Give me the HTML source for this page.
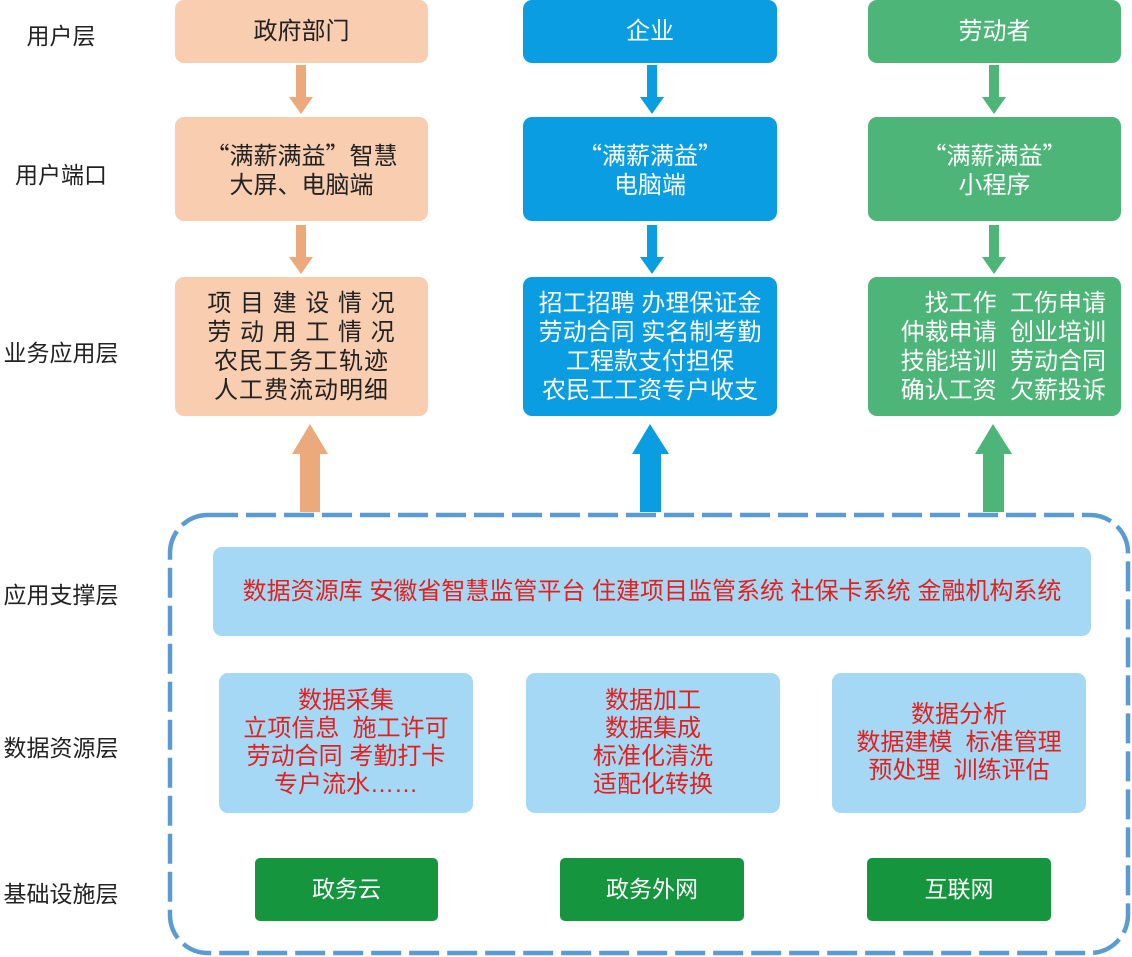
<!DOCTYPE html>
<html><head><meta charset="utf-8">
<style>
*{margin:0;padding:0;box-sizing:border-box}
body{width:1132px;height:957px;background:#fff;position:relative;overflow:hidden;font-family:"Liberation Sans","Noto Sans CJK SC",sans-serif}
.a{position:absolute}
.box{position:absolute;border-radius:9px;display:flex;align-items:center;justify-content:center;text-align:center;font-size:24px;line-height:29px}
.o{background:#f8cdb0;color:#222}
.b{background:#0a9de2;color:#fff}
.g{background:#4cb577;color:#fff}
.lb{background:#a4d8f4;color:#e4201e}
.dg{background:#16953f;color:#fff;border-radius:5px}
.lab{position:absolute;left:0;width:122px;text-align:center;font-size:23px;color:#222}
.q{font-family:"Noto Sans CJK SC",sans-serif;display:inline-block;width:24px}
</style></head><body>
<svg class="a" style="left:0;top:0" width="1132" height="957">
<rect x="170" y="515" width="958" height="438" rx="38" ry="38" fill="none" stroke="#5a9bd3" stroke-width="4.5" stroke-dasharray="30 8"/>
<g fill="#eba97c">
<rect x="296" y="65" width="10" height="34"/><polygon points="289,97 313,97 301,114"/>
<rect x="296" y="225" width="10" height="34"/><polygon points="289,257 313,257 301,274"/>
<rect x="300" y="452" width="20" height="60"/><polygon points="292,454 328,454 310,424"/>
</g>
<g fill="#0a9de2">
<rect x="647" y="65" width="10" height="34"/><polygon points="640,97 664,97 652,114"/>
<rect x="647" y="225" width="10" height="34"/><polygon points="640,257 664,257 652,274"/>
<rect x="640" y="452" width="21" height="60"/><polygon points="632,454 669,454 650,424"/>
</g>
<g fill="#4cb577">
<rect x="989" y="65" width="10" height="34"/><polygon points="982,97 1006,97 994,114"/>
<rect x="989" y="225" width="10" height="34"/><polygon points="982,257 1006,257 994,274"/>
<rect x="983" y="452" width="21" height="60"/><polygon points="975,454 1012,454 993,424"/>
</g>
</svg>

<div class="lab" style="top:17px">用户层</div>
<div class="lab" style="top:156px">用户端口</div>
<div class="lab" style="top:334px">业务应用层</div>
<div class="lab" style="top:576px">应用支撑层</div>
<div class="lab" style="top:729px">数据资源层</div>
<div class="lab" style="top:875px">基础设施层</div>

<div class="box o" style="left:175px;top:0;width:253px;height:63px">政府部门</div>
<div class="box b" style="left:523px;top:0;width:254px;height:63px">企业</div>
<div class="box g" style="left:868px;top:0;width:253px;height:63px">劳动者</div>

<div class="box o" style="left:175px;top:117px;width:253px;height:104px"><div><span class="q" style="text-align:right">“</span>满薪满益<span class="q" style="text-align:left">”</span>智慧<br>大屏、电脑端</div></div>
<div class="box b" style="left:523px;top:117px;width:254px;height:104px"><div><span class="q" style="text-align:right">“</span>满薪满益<span class="q" style="text-align:left">”</span><br>电脑端</div></div>
<div class="box g" style="left:868px;top:117px;width:253px;height:104px"><div><span class="q" style="text-align:right">“</span>满薪满益<span class="q" style="text-align:left">”</span><br>小程序</div></div>

<div class="box o" style="left:175px;top:277px;width:253px;height:139px;letter-spacing:1px">项 目 建 设 情 况<br>劳 动 用 工 情 况<br>农民工务工轨迹<br>人工费流动明细</div>
<div class="box b" style="left:523px;top:277px;width:254px;height:139px">招工招聘 办理保证金<br>劳动合同 实名制考勤<br>工程款支付担保<br>农民工工资专户收支</div>
<div class="box g" style="left:868px;top:277px;width:253px;height:139px;text-align:right;justify-content:flex-end;padding-right:15px">找工作&nbsp; 工伤申请<br>仲裁申请&nbsp; 创业培训<br>技能培训&nbsp; 劳动合同<br>确认工资&nbsp; 欠薪投诉</div>

<div class="box lb" style="left:213px;top:547px;width:878px;height:89px;font-size:24px">数据资源库 安徽省智慧监管平台 住建项目监管系统 社保卡系统 金融机构系统</div>

<div class="box lb" style="left:219px;top:673px;width:254px;height:140px;line-height:28px">数据采集<br>立项信息&nbsp; 施工许可<br>劳动合同 考勤打卡<br>专户流水……</div>
<div class="box lb" style="left:526px;top:673px;width:254px;height:140px;line-height:28px">数据加工<br>数据集成<br>标准化清洗<br>适配化转换</div>
<div class="box lb" style="left:832px;top:673px;width:254px;height:140px;line-height:28px">数据分析<br>数据建模&nbsp; 标准管理<br>预处理&nbsp; 训练评估</div>

<div class="box dg" style="left:255px;top:858px;width:183px;height:63px;font-size:23px">政务云</div>
<div class="box dg" style="left:560px;top:858px;width:184px;height:63px;font-size:23px">政务外网</div>
<div class="box dg" style="left:867px;top:858px;width:184px;height:63px;font-size:23px">互联网</div>
</body></html>
